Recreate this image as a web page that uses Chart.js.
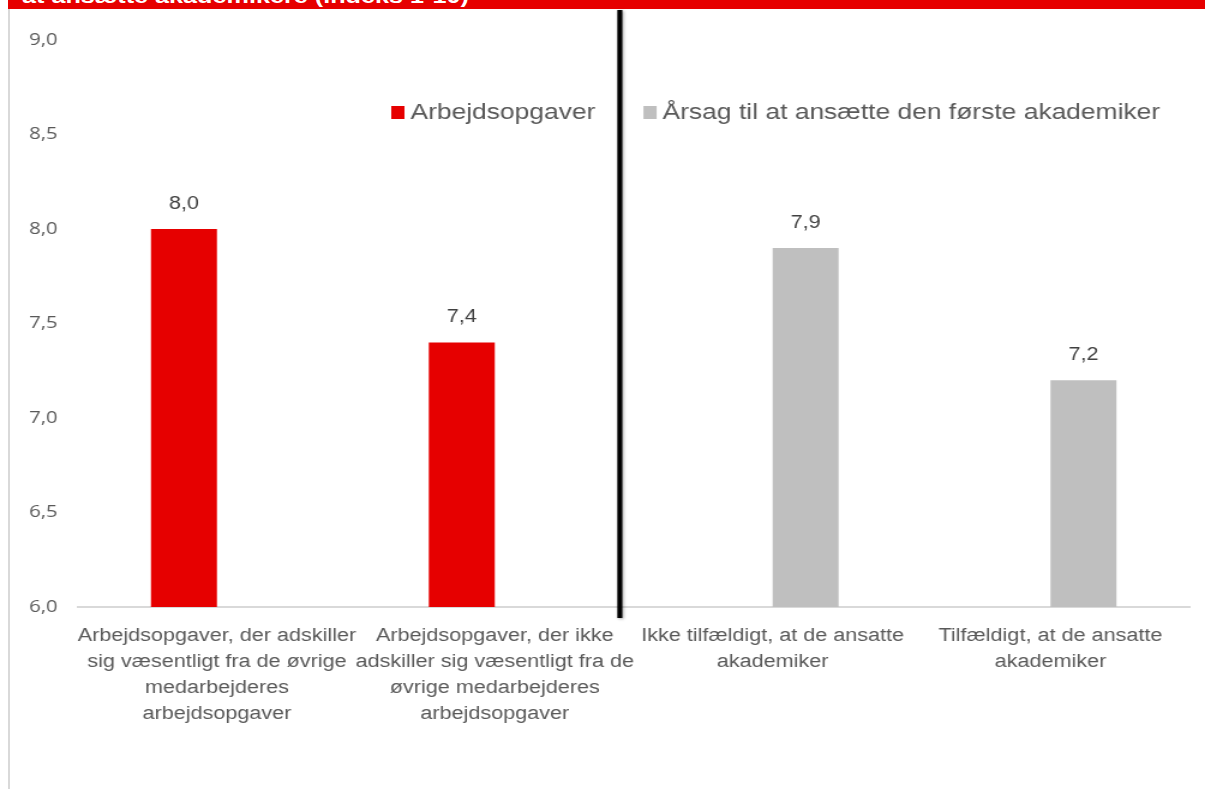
<!DOCTYPE html>
<html lang="da">
<head>
<meta charset="utf-8">
<title>Arbejdsopgaver og årsag til at ansætte akademikere</title>
<script src="https://cdn.jsdelivr.net/npm/chart.js@4.4.1/dist/chart.umd.min.js"></script>
<style>
  html, body { margin: 0; padding: 0; background: #fff; }
  #wrap { position: relative; width: 1205px; height: 789px; overflow: hidden; }
  #banner {
    position: absolute; left: 8px; top: 0; width: 1197px; height: 9px;
    background: #E60000; overflow: hidden;
  }
  #banner span {
    position: absolute; left: 14px; top: -16px;
    font: bold 21px Arial, "Liberation Sans", sans-serif; color: #fff; white-space: nowrap;
    transform: scaleX(1.2); transform-origin: left top;
  }
  #edge { position: absolute; left: 8px; top: 9px; width: 2px; height: 780px; background: #D9D9D9; }
  canvas { position: absolute; left: 0; top: 0; }
</style>
</head>
<body>
<div id="wrap">
  <div id="banner"><span>at ansætte akademikere (indeks 1-10)</span></div>
  <div id="edge"></div>
  <!-- drawn at 1004 px wide and shown stretched to 1205 px -->
  <canvas id="chart" width="1004" height="789" style="width:1205px;height:789px"></canvas>
</div>
<script>
// categories (multi-line tick labels)
const categories = [
    ["Arbejdsopgaver, der adskiller", "sig væsentligt fra de øvrige", "medarbejderes", "arbejdsopgaver"],
    ["Arbejdsopgaver, der ikke", "adskiller sig væsentligt fra de", "øvrige medarbejderes", "arbejdsopgaver"],
    ["Ikke tilfældigt, at de ansatte", "akademiker"],
    ["Tilfældigt, at de ansatte", "akademiker"]
];
const seriesNames = ["Arbejdsopgaver", "Årsag til at ansætte den første akademiker"];
const arbejdsopgaver = [8.0, 7.4, null, null];
const aarsag = [null, null, 7.9, 7.2];
const yTicks = [6.0, 6.5, 7.0, 7.5, 8.0, 8.5, 9.0];

const RED = "#E60000";
const GREY = "#BFBFBF";
const TEXT = "#595959";
const ARIAL = "Arial, 'Liberation Sans', sans-serif";

function komma(v) {
    return v.toFixed(1).replace(".", ",");
}

// value labels above each bar
const valueLabels = {
    id: "valueLabels",
    afterDatasetsDraw(chart) {
        const ctx = chart.ctx;
        ctx.save();
        ctx.font = "18px " + ARIAL;
        ctx.fillStyle = "#404040";
        ctx.textAlign = "center";
        ctx.textBaseline = "middle";
        chart.data.datasets.forEach((ds, i) => {
            chart.getDatasetMeta(i).data.forEach((bar, j) => {
                if (ds.data[j] == null) return;
                ctx.fillText(komma(ds.data[j]), bar.x, bar.y - 25);
            });
        });
        ctx.restore();
    }
};

// legend drawn inside the plot area
const innerLegend = {
    id: "innerLegend",
    afterDraw(chart) {
        const ctx = chart.ctx;
        ctx.save();
        ctx.font = "22px " + ARIAL;
        ctx.textBaseline = "middle";
        let x = 326;
        const y = 113;
        chart.data.datasets.forEach(ds => {
            ctx.fillStyle = ds.backgroundColor;
            ctx.fillRect(x, y - 7, 11, 13);
            ctx.fillStyle = TEXT;
            ctx.fillText(ds.label, x + 16, y);
            x += 16 + ctx.measureText(ds.label).width + 40;
        });
        ctx.restore();
    }
};

// black divider between the two groups
const divider = {
    id: "divider",
    afterDraw(chart) {
        const ctx = chart.ctx;
        const x = chart.scales.x.getPixelForValue(1.45);
        ctx.save();
        ctx.shadowColor = "rgba(0,0,0,0.35)";
        ctx.shadowBlur = 3;
        ctx.shadowOffsetX = 1;
        ctx.shadowOffsetY = 1;
        ctx.strokeStyle = "#000";
        ctx.lineWidth = 4.2;
        ctx.beginPath();
        ctx.moveTo(x, 10);
        ctx.lineTo(x, chart.chartArea.bottom + 11);
        ctx.stroke();
        ctx.restore();
    }
};

new Chart(document.getElementById("chart").getContext("2d"), {
    type: "bar",
    data: {
        labels: categories,
        datasets: [
            { label: seriesNames[0], data: arbejdsopgaver, backgroundColor: RED },
            { label: seriesNames[1], data: aarsag, backgroundColor: GREY }
        ]
    },
    options: {
        responsive: false,
        animation: false,
        categoryPercentage: 0.475,
        barPercentage: 1,
        layout: { padding: { top: 40, right: 13, left: 0, bottom: 0 } },
        plugins: {
            legend: { display: false },
            tooltip: { enabled: false }
        },
        scales: {
            x: {
                grid: { display: false },
                border: { color: "#D9D9D9", width: 2 },
                ticks: {
                    color: TEXT,
                    font: { family: ARIAL, size: 18, lineHeight: 1.45 },
                    padding: 8,
                    maxRotation: 0,
                    autoSkip: false
                },
                afterFit(scale) { scale.height = 182; }
            },
            y: {
                min: 6,
                max: 9,
                grid: { display: false, drawTicks: false },
                border: { display: false },
                afterBuildTicks(scale) { scale.ticks = yTicks.map(v => ({ value: v })); },
                ticks: {
                    color: TEXT,
                    font: { family: "'Open Sans', sans-serif", size: 17 },
                    padding: 17,
                    callback: v => komma(v)
                },
                afterFit(scale) { scale.width = 65; }
            }
        }
    },
    plugins: [valueLabels, innerLegend, divider]
});
</script>
</body>
</html>
